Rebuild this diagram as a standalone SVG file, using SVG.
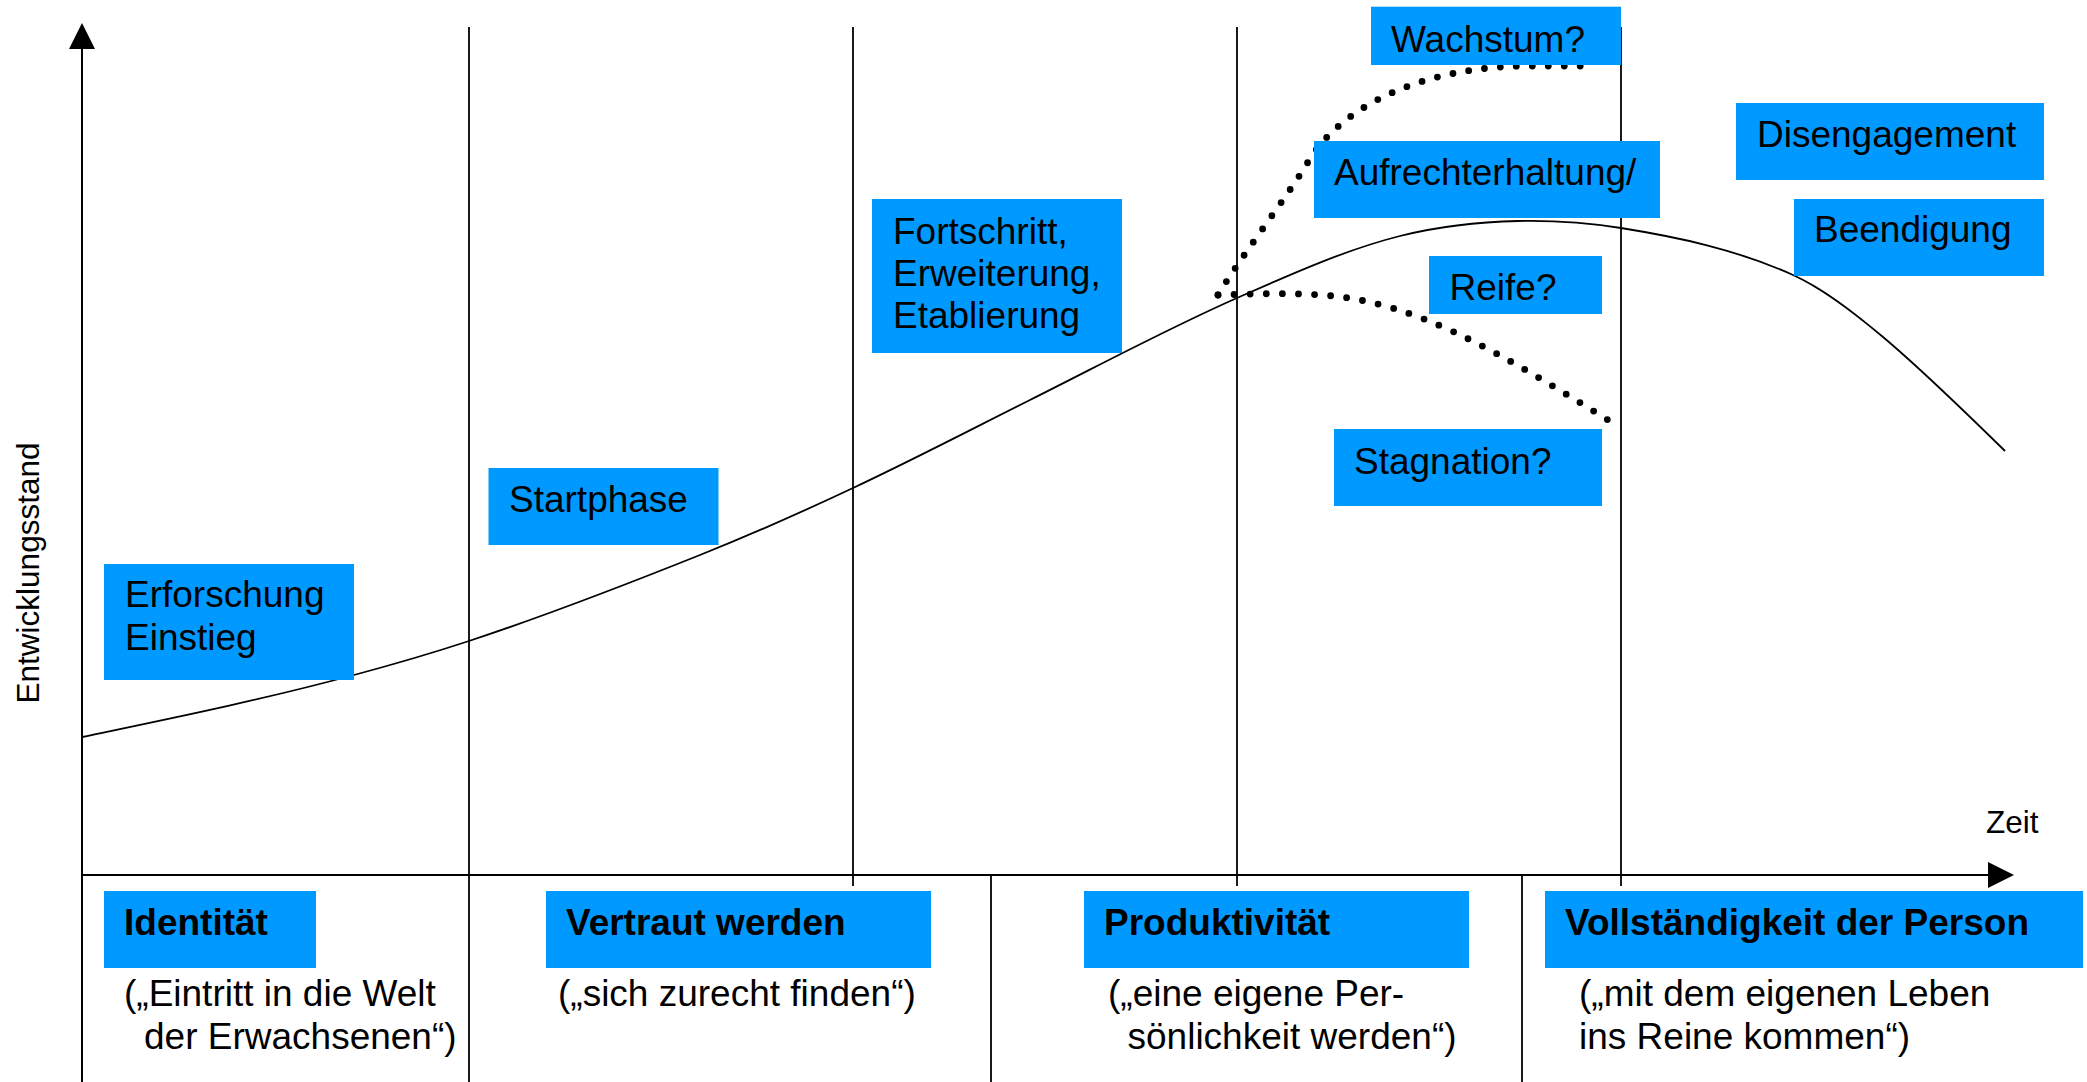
<svg xmlns="http://www.w3.org/2000/svg" width="2087" height="1082" viewBox="0 0 2087 1082">
  <style>
    text { font-family: "Liberation Sans", Arial, sans-serif; font-size: 37px; fill: #000; }
    .box { fill: #0099FF; }
    .bold { font-weight: bold; }
    .axislabel { font-size: 31.5px; }
    .grid { stroke: #000; stroke-width: 1.8; fill: none; }
    .axis { stroke: #000; stroke-width: 2; fill: none; }
    .curve { stroke: #000; stroke-width: 1.8; fill: none; }
    .dots { stroke: #000; stroke-width: 6.8; stroke-linecap: round; stroke-dasharray: 0 1; fill: none; }
  </style>

  <rect width="2087" height="1082" fill="#fff"/>

  <!-- axes, phase dividers and development curves -->
  <g id="connectors">
    <!-- vertical axis with arrowhead -->
    <line class="axis" x1="82" y1="45" x2="82" y2="1082"/>
    <polygon points="82,23 69,49 95,49" fill="#000"/>
    <!-- time axis with arrowhead -->
    <line class="axis" x1="82" y1="875" x2="1992" y2="875"/>
    <polygon points="2014,875 1988,862 1988,888" fill="#000"/>

    <!-- upper phase dividers -->
    <line class="grid" x1="469" y1="27" x2="469" y2="1082"/>
    <line class="grid" x1="853" y1="27" x2="853" y2="886"/>
    <line class="grid" x1="1237" y1="27" x2="1237" y2="886"/>
    <line class="grid" x1="1621" y1="27" x2="1621" y2="886"/>
    <!-- lower phase dividers -->
    <line class="grid" x1="991" y1="875" x2="991" y2="1082"/>
    <line class="grid" x1="1522" y1="875" x2="1522" y2="1082"/>

    <!-- main development curve -->
    <path class="curve" d="M82,737 C172.7,718 263.3,699.5 354,675 C392.3,664.7 430.7,653.6 469,641 C546,615.6 623,585.8 700,555 C751,534.6 802,512 853,488 C912,460.3 971,429.5 1030,400 C1099,365.5 1168,328.4 1237,298 C1291.3,274.1 1345.7,249.6 1400,236 C1439.3,226.2 1478.7,221.8 1518,221 C1552.3,220.3 1586.7,222.5 1621,228 C1678.3,237.2 1735.7,249.2 1793,275 C1823,288.5 1853,311.8 1883,337 C1923.7,371.2 1964.3,411.1 2005,451"/>

    <!-- branch: growth (dots spaced evenly via pathLength, last dot kept inside the path) -->
    <path class="dots" pathLength="29.05" d="M1218,295 C1240,258 1288,195.75 1308,162 C1340,108 1420,66 1530,66 L1581,66"/>
    <!-- branch: stagnation -->
    <path class="dots" pathLength="26.05" d="M1218,295 C1256.3,293.9 1294.7,292.2 1333,296 C1373.3,300 1413.7,313.1 1454,332 C1505.3,356.1 1556.7,388.2 1608,420"/>
  </g>

  <g id="axis-labels">
    <text class="axislabel" transform="translate(39,573) rotate(-90)" text-anchor="middle">Entwicklungsstand</text>
    <text class="axislabel" x="1986" y="833">Zeit</text>
  </g>

  <!-- stage boxes along the curve -->
  <g id="node-erforschung">
    <rect class="box" x="104" y="564" width="250" height="116"/>
    <text x="125" y="607">Erforschung</text>
    <text x="125" y="650">Einstieg</text>
  </g>
  <g id="node-startphase">
    <rect class="box" x="488.5" y="468" width="230" height="77"/>
    <text x="509" y="512">Startphase</text>
  </g>
  <g id="node-fortschritt">
    <rect class="box" x="872" y="199" width="250" height="154"/>
    <text x="893" y="244">Fortschritt,</text>
    <text x="893" y="286">Erweiterung,</text>
    <text x="893" y="328">Etablierung</text>
  </g>
  <g id="node-wachstum">
    <rect class="box" x="1371" y="6.7" width="250" height="58.3"/>
    <text x="1391" y="52">Wachstum?</text>
  </g>
  <g id="node-aufrechterhaltung">
    <rect class="box" x="1314" y="141" width="346" height="77"/>
    <text x="1334" y="185">Aufrechterhaltung/</text>
  </g>
  <g id="node-reife">
    <rect class="box" x="1429" y="256" width="173" height="58"/>
    <text x="1449.5" y="299.5">Reife?</text>
  </g>
  <g id="node-stagnation">
    <rect class="box" x="1334" y="429" width="268" height="77"/>
    <text x="1354" y="473.5">Stagnation?</text>
  </g>
  <g id="node-disengagement">
    <rect class="box" x="1736" y="103" width="308" height="77"/>
    <text x="1757" y="146.5">Disengagement</text>
  </g>
  <g id="node-beendigung">
    <rect class="box" x="1794" y="199" width="250" height="77"/>
    <text x="1814" y="241.5">Beendigung</text>
  </g>

  <!-- phase titles under the time axis -->
  <g id="node-identitaet">
    <rect class="box" x="104" y="891" width="212" height="77"/>
    <text class="bold" x="124" y="935">Identität</text>
    <text x="124" y="1006">(„Eintritt in die Welt</text>
    <text x="144" y="1048.5">der Erwachsenen“)</text>
  </g>
  <g id="node-vertraut">
    <rect class="box" x="546" y="891" width="385" height="77"/>
    <text class="bold" x="566" y="935">Vertraut werden</text>
    <text x="558" y="1006">(„sich zurecht finden“)</text>
  </g>
  <g id="node-produktivitaet">
    <rect class="box" x="1084" y="891" width="385" height="77"/>
    <text class="bold" x="1104" y="935">Produktivität</text>
    <text x="1108" y="1006">(„eine eigene Per-</text>
    <text x="1127.5" y="1048.5">sönlichkeit werden“)</text>
  </g>
  <g id="node-vollstaendigkeit">
    <rect class="box" x="1545" y="891" width="538" height="77"/>
    <text class="bold" x="1565" y="935">Vollständigkeit der Person</text>
    <text x="1579" y="1006">(„mit dem eigenen Leben</text>
    <text x="1579" y="1048.5">ins Reine kommen“)</text>
  </g>
</svg>
